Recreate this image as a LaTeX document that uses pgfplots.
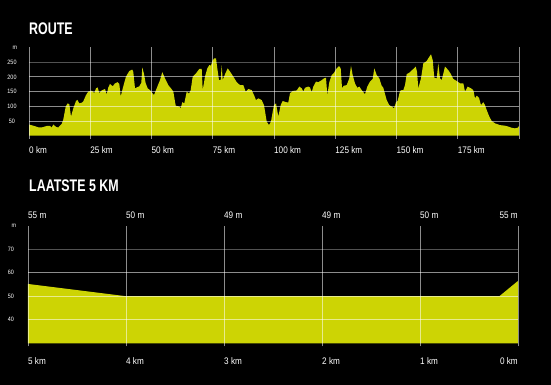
\documentclass[border=0pt]{standalone}
\usepackage{pgfplots}
\pgfplotsset{compat=1.18}
\usepackage{fontspec}
\setmainfont{Liberation Sans}[FakeStretch=0.86]
\newfontfamily\titlefont{Liberation Sans}[FakeStretch=0.74]
\definecolor{yel}{RGB}{205,212,4}
\pgfplotsset{myax/.style={
  scale only axis, axis on top, enlargelimits=false, clip mode=individual,
  axis line style={draw=none},
  grid=major,
  major grid style={white,opacity=0.55,line width=0.9pt},
  tick align=outside, major tick length=3pt,
  xtick style={white,opacity=0.55,line width=0.9pt},
  ytick style={draw=none},
  xtick pos=left, ytick pos=left,
  /pgf/number format/assume math mode=true,
  xticklabel style={font=\fontsize{9.5}{11}\selectfont, text=white, anchor=north west, inner sep=0pt, yshift=-8pt},
  yticklabel style={font=\fontsize{6.3}{7}\selectfont, text=white, anchor=center, xshift=-14pt},
}}
\begin{document}
\begin{tikzpicture}
\useasboundingbox (0pt,0pt) rectangle (551pt,385pt);
\fill[black] (0pt,0pt) rectangle (551pt,385pt);
\node[anchor=base west, inner sep=0pt, text=white, font=\titlefont\bfseries\fontsize{16.8}{18}\selectfont] at (29pt,350pt) {ROUTE};
\node[anchor=base west, inner sep=0pt, text=white, font=\titlefont\bfseries\fontsize{16.8}{18}\selectfont] at (29pt,193.3pt) {LAATSTE 5 KM};

\begin{axis}[myax, at={(29pt,249.3pt)}, anchor=south west, width=490pt, height=88.2pt,
  xmin=0, xmax=200, ymin=0, ymax=300,
  xtick={0,25,...,200}, xticklabels={0 km,25 km,50 km,75 km,100 km,125 km,150 km,175 km,{}},
  ytick={50,100,150,200}, extra y ticks={250},
  extra y tick style={grid=major, major grid style={white,opacity=0.32,line width=0.9pt}}]
\addplot[fill=yel, draw=none] coordinates {
(0.0,38) (1.76,34) (3.80,28.5) (5.18,28) (7.22,33) (8.57,33) (9.27,28) (9.92,38) (11.02,30) (11.96,28)
(13.35,40) (14.0,55) (14.98,99) (15.79,110) (16.45,107) (17.14,65) (18.08,93) (19.18,118) (19.71,122)
(20.53,110) (21.51,112) (22.16,117) (23.27,138) (24.20,150) (25.59,153) (26.65,145) (27.35,161) (28.04,164)
(28.69,145) (29.67,154) (31.02,159) (31.71,140) (32.37,164) (33.06,176) (34.16,168) (35.10,178) (36.20,182)
(36.86,176) (37.43,133) (38.49,168) (39.59,201) (40.94,220) (42.16,225) (42.57,217) (43.27,161) (43.96,164)
(45.02,168) (45.84,180) (46.24,232) (46.94,210) (47.63,178) (48.45,161) (49.39,155)
(51.02,138) (52.12,161) (53.47,189) (54.41,216) (55.51,195) (56.86,172) (58.24,158) (58.90,150) (59.88,102)
(61.35,99) (61.92,93) (62.57,114) (63.39,110) (64.37,150) (65.31,143) (66.0,155) (66.82,201) (68.16,212)
(69.51,227) (70.49,227) (70.90,155) (71.84,201) (72.78,229) (73.59,240) (74.29,239) (74.98,257) (75.63,263)
(76.33,263) (76.86,229) (77.55,189) (78.24,189) (78.65,240) (79.06,189) (80.0,209) (81.10,229) (82.04,218)
(83.39,201) (84.78,182) (86.12,172) (87.47,172) (88.45,150) (89.51,159) (90.90,155) (91.84,138) (92.65,121)
(93.59,127) (94.98,121) (95.92,104) (97.02,48) (97.96,36) (98.78,48) (99.47,82) (100.0,104) (100.82,110)
(101.76,65) (102.73,104) (103.55,118) (104.90,114) (105.84,113) (106.53,144) (107.63,152) (109.27,154)
(110.33,167) (111.31,161) (111.96,150) (112.65,163) (114.0,167) (114.69,164) (115.39,148) (116.04,167)
(117.14,184) (118.08,182) (119.47,189) (120.41,195) (121.22,197) (121.76,138) (122.57,182) (123.55,206)
(124.49,214) (125.59,229) (126.53,237) (127.22,229) (127.76,163) (128.57,170) (129.67,172) (130.73,195)
(131.43,238) (132.12,206) (133.06,178) (134.0,163) (134.82,167) (135.80,155) (137.14,141) (138.08,167)
(139.18,184) (140.29,193) (140.94,229) (141.92,206) (142.98,195) (143.96,170) (144.61,163) (146.0,121)
(147.06,104) (148.04,99) (148.98,93) (149.80,114) (150.49,119) (151.43,152) (152.12,155) (152.78,155)
(153.47,172) (154.16,209) (155.51,216) (156.86,227) (157.84,235) (158.37,218) (158.90,161) (160.0,195)
(160.94,246) (162.33,254) (162.98,263) (164.08,277) (164.78,257) (165.43,197) (166.41,195) (167.06,246)
(167.76,195) (168.45,189) (169.80,235) (171.14,223) (172.24,209) (173.18,193) (174.57,186) (175.92,178)
(177.27,178) (177.96,150) (179.06,167) (180.41,161) (181.35,155) (182.04,127) (182.73,136) (183.67,129)
(184.49,104) (185.43,114) (186.12,104) (186.82,87) (187.88,65) (188.86,50) (190.20,42) (192.24,36)
(194.29,34) (195.63,31) (197.02,27) (198.37,25) (199.47,27) (200.0,33)
} \closedcycle;
\node[font=\fontsize{6.3}{7}\selectfont, text=white, inner sep=0pt] at (rel axis cs:0,1) [xshift=-14pt] {m};
\end{axis}

\begin{axis}[myax, at={(28pt,41.7pt)}, anchor=south west, width=490pt, height=117.75pt,
  xmin=0, xmax=5, x dir=reverse, ymin=30, ymax=80,
  xticklabel style={yshift=-3pt},
  xtick={1,2,3,4,5}, xticklabels={1 km,2 km,3 km,4 km,5 km},
  extra x ticks={0}, extra x tick labels={0 km},
  extra x tick style={grid=major, xticklabel style={anchor=north east}},
  ytick={40,50,60}, extra y ticks={70},
  extra y tick style={grid=major, major grid style={white,opacity=0.32,line width=0.9pt}}]
\addplot[fill=yel, draw=none] coordinates {(5,55.2) (4,50) (0.19,50) (0,56.5)} \closedcycle;
\node[font=\fontsize{6.3}{7}\selectfont, text=white, inner sep=0pt] at (rel axis cs:0,1) [xshift=-14pt] {m};
\begin{scope}[every node/.style={font=\fontsize{9.5}{11}\selectfont, text=white, inner sep=0pt, yshift=7pt}]
\node[anchor=base west] at (axis cs:5,80) {55 m};
\node[anchor=base west] at (axis cs:4,80) {50 m};
\node[anchor=base west] at (axis cs:3,80) {49 m};
\node[anchor=base west] at (axis cs:2,80) {49 m};
\node[anchor=base west] at (axis cs:1,80) {50 m};
\node[anchor=base east] at (axis cs:0,80) {55 m};
\end{scope}
\end{axis}
\end{tikzpicture}
\end{document}
